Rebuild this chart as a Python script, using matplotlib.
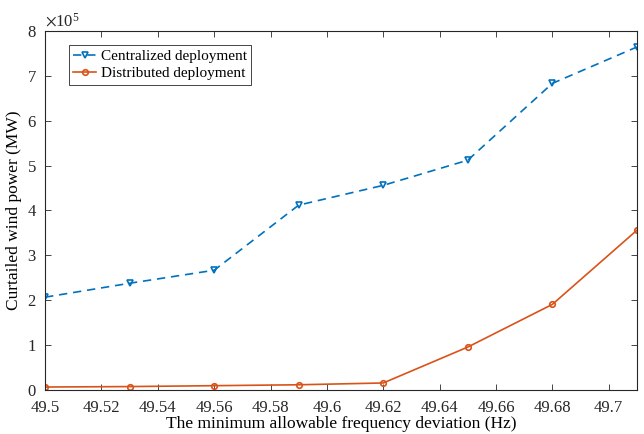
import numpy as np
import matplotlib.pyplot as plt
from matplotlib.ticker import ScalarFormatter

plt.rcParams['font.family'] = ['Liberation Serif', 'DejaVu Serif']
plt.rcParams['mathtext.fontset'] = 'stix'

freq = [49.5, 49.53, 49.56, 49.59, 49.62, 49.65, 49.68, 49.71]
centralized = np.array([2.07, 2.38, 2.67, 4.12, 4.56, 5.12, 6.83, 7.64]) * 1e5
distributed = np.array([0.07, 0.08, 0.10, 0.12, 0.16, 0.96, 1.91, 3.56]) * 1e5

fig = plt.figure(figsize=(6.44, 4.34), dpi=100)
ax = fig.add_axes([0.070, 0.101, 0.919, 0.828])

ax.plot(freq, centralized, '--v', color='#0072BD', lw=1.2, ms=5,
        mfc='none', mew=1.2, dashes=(5, 3.5), label='Centralized deployment')
ax.plot(freq, distributed, '-o', color='#D95319', lw=1.2, ms=4,
        mfc='none', mew=1.2, label='Distributed deployment')

ax.set_xlim(49.5, 49.71)
ax.set_ylim(0, 8e5)
ax.set_xticks(np.arange(49.5, 49.705, 0.02))
ax.set_xticklabels(['49.5', '49.52', '49.54', '49.56', '49.58', '49.6',
                    '49.62', '49.64', '49.66', '49.68', '49.7'])
fmt = ScalarFormatter(useMathText=True)
fmt.set_powerlimits((0, 0))
ax.yaxis.set_major_formatter(fmt)
ax.yaxis.get_offset_text().set_fontsize(12)

ax.tick_params(direction='in', top=True, right=True, labelsize=12,
               length=4, width=0.6, colors='#262626')
ax.tick_params(axis='x', pad=7)
ax.tick_params(axis='y', pad=6)
for s in ax.spines.values():
    s.set_linewidth(0.8)
    s.set_color('#262626')

ax.set_xlabel('The minimum allowable frequency deviation (Hz)', fontsize=12.5, labelpad=0)
ax.set_ylabel('Curtailed wind power (MW)', fontsize=12.5, labelpad=3)

leg = ax.legend(loc='upper left', bbox_to_anchor=(0.04, 0.96), fontsize=11,
                fancybox=False, edgecolor='#262626', framealpha=1,
                handlelength=1.5, handletextpad=0.3, borderpad=0.3,
                labelspacing=0.2, borderaxespad=0)
leg.get_frame().set_linewidth(0.6)

fig.savefig('out.png', dpi=100)
